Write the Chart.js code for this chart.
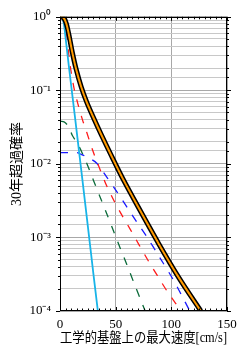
<!DOCTYPE html>
<html><head><meta charset="utf-8">
<script src="https://cdn.jsdelivr.net/npm/chart.js@4/dist/chart.umd.min.js"></script>
<style>html,body{margin:0;padding:0;background:#fff}canvas{display:block}</style>
</head><body>
<canvas id="c" width="247" height="357"></canvas>
<script>
// ---- data ----
const xTitle = '工学的基盤上の最大速度[cm/s]';
const yTitle = '30年超過確率';
const xTickStep = 50;
const xMinorStep = 5;
const yTickLabels = ['10⁰', '10⁻¹', '10⁻²', '10⁻³', '10⁻⁴'];

const totalX = [0, 3, 5.5, 8, 11, 14.5, 19, 24, 30, 37, 46.5, 56.4, 70, 88.5, 107, 126.5];
const totalY = [1, 0.977, 0.822, 0.57, 0.331, 0.194, 0.112, 0.0692, 0.0427, 0.0251, 0.0126, 0.0063, 0.00263, 0.00083, 0.00028, 0.0001];

const cyanX = [0, 2, 3.5, 5, 8, 11.7, 15, 20, 25, 30, 34];
const cyanY = [1, 0.96, 0.8, 0.52, 0.21, 0.072, 0.0275, 0.0063, 0.00143, 0.00032, 0.0001];

const redX = [0, 2, 4, 6, 8, 10, 13, 16, 20, 24, 29.5, 35, 42, 48.5, 55.7, 63.5, 71, 79, 87.5, 95.7, 104, 109];
const redY = [1, 0.933, 0.794, 0.562, 0.295, 0.178, 0.1, 0.0661, 0.0407, 0.0269, 0.0151, 0.00912, 0.00501, 0.00316, 0.002, 0.00126, 0.000794, 0.00049, 0.000302, 0.000191, 0.000126, 0.0001];

const blueX = [0, 15, 19, 27, 33, 42, 51, 60, 69, 78, 89.4, 101.5, 109, 116.6];
const blueY = [0.0142, 0.0142, 0.0135, 0.0118, 0.0102, 0.0066, 0.0042, 0.0026, 0.00162, 0.00102, 0.00054, 0.00027, 0.000166, 0.0001];

const greenX = [0, 4, 6.5, 8.8, 11, 17, 24, 30, 36, 42, 48, 54, 60, 66, 72, 76.5];
const greenY = [0.038, 0.037, 0.034, 0.030, 0.0245, 0.0174, 0.0102, 0.006, 0.00355, 0.0021, 0.00123, 0.00072, 0.00043, 0.00025, 0.000148, 0.0001];

const pts = (xs, ys) => xs.map((x, i) => ({x, y: ys[i]}));
const isDecade = v => { const e = Math.log10(v); return Math.abs(e - Math.round(e)) < 1e-9; };

const serif = "'Liberation Serif', 'Noto Sans CJK JP', serif";

const frame = {
  id: 'frame',
  afterDatasetsDraw(chart) {
    const {ctx, chartArea: a, scales: {x, y}} = chart;
    ctx.save();
    ctx.strokeStyle = '#000';
    ctx.lineWidth = 1;
    ctx.beginPath();
    for (let v = x.min; v <= x.max; v += xMinorStep) {
      const p = Math.round(x.getPixelForValue(v)) + 0.5;
      const len = v % xTickStep === 0 ? 4 : 2.5;
      ctx.moveTo(p, a.bottom); ctx.lineTo(p, a.bottom - len);
      ctx.moveTo(p, a.top); ctx.lineTo(p, a.top + len);
    }
    y.ticks.forEach(t => {
      const p = Math.round(y.getPixelForValue(t.value)) + 0.5;
      const len = isDecade(t.value) ? 4 : 2;
      ctx.moveTo(a.left, p); ctx.lineTo(a.left - len, p);
      ctx.moveTo(a.right, p); ctx.lineTo(a.right + len, p);
    });
    ctx.stroke();
    ctx.strokeRect(Math.round(a.left) + 0.5, Math.round(a.top) + 0.5,
                   Math.round(a.right - a.left) - 1, Math.round(a.bottom - a.top) - 1);
    ctx.restore();
  }
};

const lineDs = (data, color, width, dash, order) => ({
  data, borderColor: color, borderWidth: width, borderDash: dash,
  pointRadius: 0, tension: 0.3, fill: false, clip: 0, order
});

new Chart(document.getElementById('c'), {
  type: 'line',
  data: {
    datasets: [
      lineDs(pts(totalX, totalY), '#ff9a00', 2, [], 0),
      lineDs(pts(totalX, totalY), '#000000', 5, [], 1),
      lineDs(pts(cyanX, cyanY), '#18b4e8', 1.8, [], 2),
      lineDs(pts(redX, redY), '#ff1a1a', 1.3, [8, 9], 3),
      lineDs(pts(blueX, blueY), '#1a1aff', 1.3, [8, 9], 4),
      lineDs(pts(greenX, greenY), '#0b6b3a', 1.3, [8, 9], 5)
    ]
  },
  options: {
    responsive: false,
    devicePixelRatio: 1,
    animation: false,
    events: [],
    layout: {padding: {left: 0, top: 16, right: 20, bottom: 0}},
    plugins: {legend: {display: false}, tooltip: {enabled: false}},
    scales: {
      x: {
        type: 'linear', min: 0, max: 150,
        afterFit(s) { s.height = 46; },
        ticks: {stepSize: xTickStep, padding: 6, color: '#000', font: {family: serif, size: 13}},
        grid: {drawTicks: false, color: '#a8a8a8', lineWidth: 1},
        border: {display: false},
        title: {display: true, text: xTitle, color: '#000', font: {family: serif, size: 14}, padding: {top: 0, bottom: 10}}
      },
      y: {
        type: 'logarithmic', min: 1e-4, max: 1,
        afterFit(s) { s.width = 60; },
        ticks: {
          autoSkip: false, padding: 9, color: '#000', font: {family: serif, size: 13},
          callback: v => isDecade(v) ? yTickLabels[-Math.round(Math.log10(v))] : ''
        },
        grid: {drawTicks: false, lineWidth: 1, color: c => (c.tick && isDecade(c.tick.value)) ? '#a8a8a8' : '#c8c8c8'},
        border: {display: false},
        title: {display: true, text: yTitle, color: '#000', font: {family: serif, size: 14}, padding: {top: 9, bottom: 0}}
      }
    }
  },
  plugins: [frame]
});
</script>
</body></html>
